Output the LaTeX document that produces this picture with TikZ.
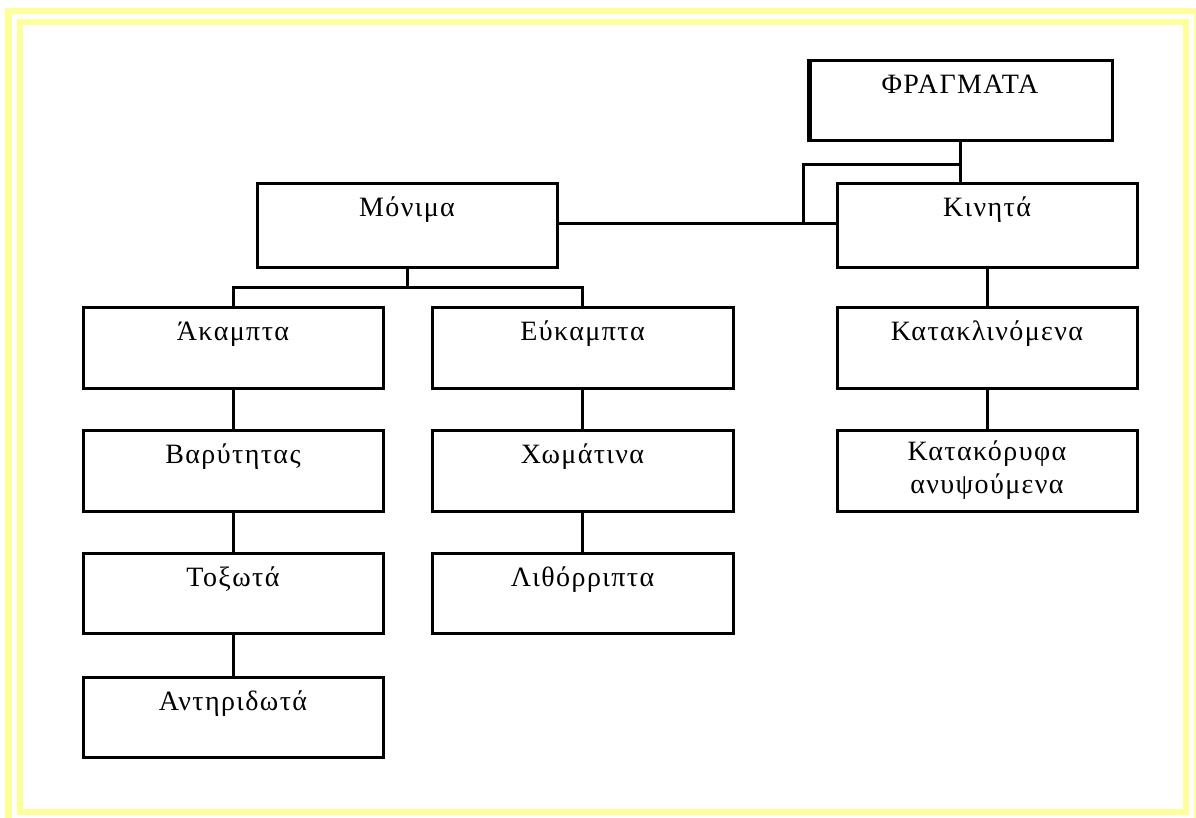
\documentclass[tikz,border=0pt]{standalone}
\usepackage{fontspec}
\setmainfont{Liberation Serif}[LetterSpace=5]
\definecolor{frameyellow}{RGB}{255,255,153}
\begin{document}
\begin{tikzpicture}[x=1pt,y=-1pt,
  boxstyle/.style={draw=black,line width=3pt,inner sep=0pt,outer sep=0pt},
  lbl/.style={anchor=base,inner sep=0pt,font=\fontsize{28}{34}\selectfont},
  conn/.style={draw=black,line width=3pt},
  yframe/.style={draw=frameyellow,line width=6.5pt}]
\useasboundingbox (0,0) rectangle (1196,817);
\fill[white] (0,0) rectangle (1196,817);
% yellow frames
\draw[yframe] (8.5,11) rectangle (1197,822);
\draw[yframe] (20,22) rectangle (1186,812);
% boxes: (left,top) rectangle (right,bottom)
\newcommand{\mkbox}[5]{%
  \node[boxstyle,minimum width={#4-#2},minimum height={#5-#3},anchor=north west] (#1) at (#2,#3) {};}
\mkbox{fr}{808}{60}{1112}{140}
\mkbox{mon}{257}{183}{557}{267}
\mkbox{kin}{837}{183}{1137}{267}
\mkbox{ak}{83}{307}{383}{388}
\mkbox{euk}{432}{307}{733}{388}
\mkbox{kat}{837}{307}{1137}{388}
\mkbox{bar}{83}{430}{383}{511}
\mkbox{xom}{432}{430}{733}{511}
\mkbox{kor}{837}{430}{1137}{511}
\mkbox{tox}{83}{553}{383}{633}
\mkbox{lit}{432}{553}{733}{633}
\mkbox{ant}{83}{677}{383}{757}
% thicker left edge of the top box
\draw[line width=3pt] ([xshift=2.5pt]fr.north west) -- ([xshift=2.5pt]fr.south west);
% labels
\node[lbl] (tfr) at ([yshift=-33pt]fr.north) {ΦΡΑΓΜΑΤΑ};
\node[lbl] (tmon) at ([yshift=-33pt]mon.north) {Μόνιμα};
\node[lbl] (tkin) at ([yshift=-33pt]kin.north) {Κινητά};
\node[lbl] (tak) at ([yshift=-33pt]ak.north) {Άκαμπτα};
\node[lbl] (teuk) at ([yshift=-33pt]euk.north) {Εύκαμπτα};
\node[lbl] (tkat) at ([yshift=-33pt]kat.north) {Κατακλινόμενα};
\node[lbl] (tbar) at ([yshift=-33pt]bar.north) {Βαρύτητας};
\node[lbl] (txom) at ([yshift=-33pt]xom.north) {Χωμάτινα};
\node[lbl] (tkor1) at ([yshift=-30pt]kor.north) {Κατακόρυφα};
\node[lbl] (tkor2) at ([yshift=-63pt]kor.north) {ανυψούμενα};
\node[lbl] (ttox) at ([yshift=-33pt]tox.north) {Τοξωτά};
\node[lbl] (tlit) at ([yshift=-33pt]lit.north) {Λιθόρριπτα};
\node[lbl] (tant) at ([yshift=-33pt]ant.north) {Αντηριδωτά};
% connectors
\coordinate (j1) at (803,164);
\coordinate (j2) at (407,287);
\coordinate (j3) at (803,223);
\draw[conn] (fr.south) -- (fr.south |- kin.north);
\draw[conn] (fr.south |- j1) -- (j1) -- (j3);
\draw[conn] (mon.east |- j3) -- (kin.west |- j3);
\draw[conn] (mon.south) -- (j2);
\draw[conn] (ak.north) -- (ak.north |- j2) -- (euk.north |- j2) -- (euk.north);
\draw[conn] (kin.south) -- (kat.north);
\draw[conn] (kat.south) -- (kor.north);
\draw[conn] (ak.south) -- (bar.north);
\draw[conn] (bar.south) -- (tox.north);
\draw[conn] (tox.south) -- (ant.north);
\draw[conn] (euk.south) -- (xom.north);
\draw[conn] (xom.south) -- (lit.north);
\end{tikzpicture}
\end{document}
